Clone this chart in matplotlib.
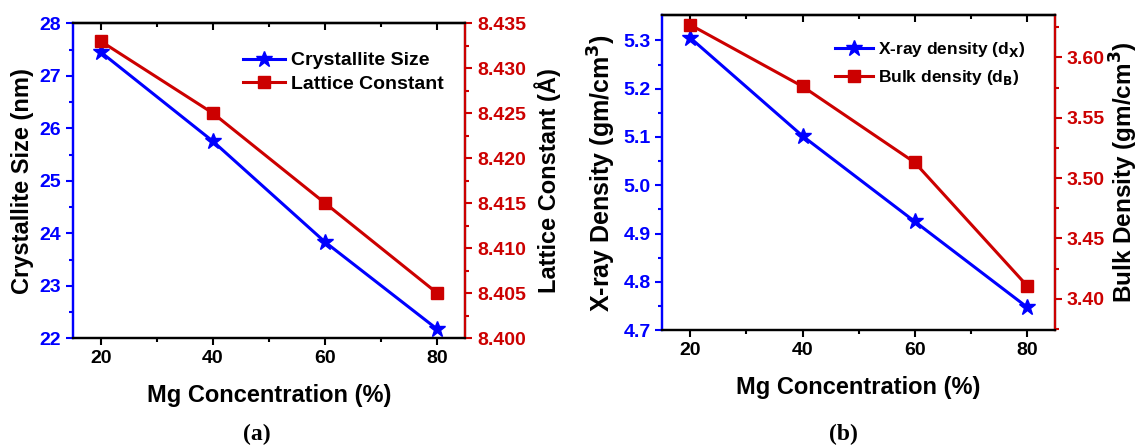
import matplotlib.pyplot as plt

plt.rcParams['font.family'] = ['Liberation Sans', 'DejaVu Sans']
plt.rcParams['font.weight'] = 'bold'
plt.rcParams['axes.labelweight'] = 'bold'
plt.rcParams['mathtext.default'] = 'bf'

mg = [20, 40, 60, 80]
cryst_size = [27.45, 25.75, 23.83, 22.17]
lattice = [8.433, 8.425, 8.415, 8.405]
xray_dens = [5.305, 5.102, 4.925, 4.748]
bulk_dens = [3.627, 3.576, 3.513, 3.411]

azul = '#0000ff'
verm = '#cc0000'


def eixos(ax, ax2, cor1=azul, cor2=verm):
	ax.set_xlim(15, 85)
	ax.set_xticks([20, 40, 60, 80])
	ax.set_xticks([30, 50, 70], minor=True)
	ax.spines['left'].set_color(cor1)
	ax2.spines['right'].set_color(cor2)
	for a in (ax, ax2):
		for s in a.spines.values():
			s.set_linewidth(1.6)
	ax2.spines['left'].set_color(cor1)
	ax.tick_params(axis='x', which='both', direction='out', width=1.5, labelsize=14, top=False)
	ax.tick_params(axis='x', which='major', length=5)
	ax.tick_params(axis='x', which='minor', length=3)
	ax.tick_params(axis='y', which='both', colors=cor1, width=1.5, labelsize=14)
	ax.tick_params(axis='y', which='major', length=5)
	ax.tick_params(axis='y', which='minor', length=3)
	ax2.tick_params(axis='y', which='both', colors=cor2, width=1.5, labelsize=14)
	ax2.tick_params(axis='y', which='major', length=5)
	ax2.tick_params(axis='y', which='minor', length=3)
	topo = ax.secondary_xaxis('top')
	topo.set_xticks([20, 40, 60, 80])
	topo.set_xticks([30, 50, 70], minor=True)
	topo.tick_params(which='both', direction='in', labeltop=False, width=1.5)
	topo.tick_params(which='major', length=5)
	topo.tick_params(which='minor', length=3)
	topo.spines['top'].set_linewidth(1.6)


fig = plt.figure(figsize=(11.38, 4.48), dpi=100)

# (a)
ax1 = fig.add_axes([0.064, 0.245, 0.345, 0.703])
ax1b = ax1.twinx()
l1, = ax1.plot(mg, cryst_size, color=azul, lw=2.2, marker='*', ms=12, label='Crystallite Size')
l2, = ax1b.plot(mg, lattice, color=verm, lw=2.2, marker='s', ms=8, label='Lattice Constant')
ax1.set_ylim(22, 28)
ax1.set_yticks([22, 23, 24, 25, 26, 27, 28])
ax1.set_yticks([22.5, 23.5, 24.5, 25.5, 26.5, 27.5], minor=True)
ax1b.set_ylim(8.400, 8.435)
ax1b.set_yticks([8.400, 8.405, 8.410, 8.415, 8.420, 8.425, 8.430, 8.435])
ax1b.set_yticks([8.4025, 8.4075, 8.4125, 8.4175, 8.4225, 8.4275, 8.4325], minor=True)
ax1b.set_yticklabels(['{:.3f}'.format(v) for v in ax1b.get_yticks()])
eixos(ax1, ax1b)
ax1.set_xlabel('Mg Concentration (%)', fontsize=17, labelpad=12)
ax1.set_ylabel('Crystallite Size (nm)', fontsize=17, labelpad=4)
ax1b.set_ylabel('Lattice Constant (Å)', fontsize=17, labelpad=6)
ax1.legend(handles=[l1, l2], loc='upper right', bbox_to_anchor=(0.99, 0.965), frameon=False,
	fontsize=14, handlelength=2.2, handletextpad=0.3, labelspacing=0.3)

# (b)
ax2 = fig.add_axes([0.582, 0.263, 0.345, 0.703])
ax2b = ax2.twinx()
l3, = ax2.plot(mg, xray_dens, color=azul, lw=2.2, marker='*', ms=12, label='X-ray density (d$_X$)')
l4, = ax2b.plot(mg, bulk_dens, color=verm, lw=2.2, marker='s', ms=8, label='Bulk density (d$_B$)')
ax2.set_ylim(4.7, 5.352)
ax2.set_yticks([4.7, 4.8, 4.9, 5.0, 5.1, 5.2, 5.3])
ax2.set_yticks([4.75, 4.85, 4.95, 5.05, 5.15, 5.25], minor=True)
ax2.set_yticklabels(['{:.1f}'.format(v) for v in ax2.get_yticks()])
ax2b.set_ylim(3.374, 3.635)
ax2b.set_yticks([3.40, 3.45, 3.50, 3.55, 3.60])
ax2b.set_yticks([3.375, 3.425, 3.475, 3.525, 3.575, 3.625], minor=True)
ax2b.set_yticklabels(['{:.2f}'.format(v) for v in ax2b.get_yticks()])
eixos(ax2, ax2b)
ax2.set_xlabel('Mg Concentration (%)', fontsize=17, labelpad=12)
ax2.set_ylabel('X-ray Density (gm/cm$^3$)', fontsize=18, labelpad=4)
ax2b.set_ylabel('Bulk Density (gm/cm$^3$)', fontsize=17.5, labelpad=2)
ax2.legend(handles=[l3, l4], loc='upper right', bbox_to_anchor=(0.965, 0.97), frameon=False,
	fontsize=12.5, handlelength=2.2, handletextpad=0.3, labelspacing=0.5)

fig.text(0.226, 0.018, '(a)', fontsize=17, fontweight='bold', ha='center', family='Liberation Serif')
fig.text(0.741, 0.018, '(b)', fontsize=17, fontweight='bold', ha='center', family='Liberation Serif')

plt.savefig('out.png')
